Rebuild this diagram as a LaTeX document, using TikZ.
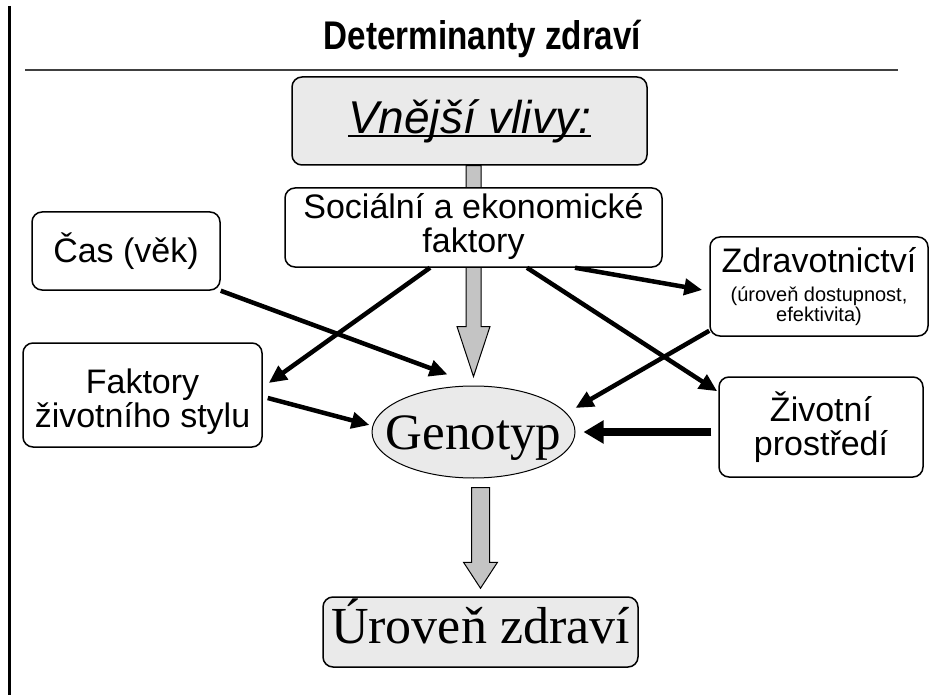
\documentclass[tikz,border=0pt]{standalone}
\usepackage{graphicx}
\usepackage{fontspec}
\setmainfont{Liberation Sans}
\newfontfamily\timesfont{Liberation Serif}
\usetikzlibrary{arrows.meta, calc, shapes.geometric}
\definecolor{PaleGray}{HTML}{EAEAEA}
\definecolor{ArrowGray}{HTML}{C4C4C4}
\definecolor{RuleGray}{HTML}{404040}

\newcommand\ulinetext[1]{\setbox0\hbox{#1}\rlap{\rule[-4pt]{\wd0}{2pt}}\box0}
% gray block arrow: start, tip, shaft half width, head length, head half width
\newcommand\grayarrow[5]{%
  \draw[fill=ArrowGray, line width=1pt] let \p1=(#1), \p2=(#2) in
    (\x2-#3pt,\y1) -- (\x2-#3pt,\y2+#4pt) -- (\x2-#5pt,\y2+#4pt) -- (\x2,\y2)
    -- (\x2+#5pt,\y2+#4pt) -- (\x2+#3pt,\y2+#4pt) -- (\x2+#3pt,\y1) -- cycle;}

\begin{document}
\begin{tikzpicture}[x=1pt, y=-1pt,
    box/.style={draw, line width=1.5pt, rounded corners=10pt, fill=white, align=center,
      inner sep=0pt, font=\fontsize{34}{34}\selectfont},
    graybox/.style={box, fill=PaleGray},
    link/.style={line width=4.5pt, -{Triangle[length=18pt,width=16pt]}}]
  \useasboundingbox (0,0) rectangle (929,695);

  % frame line and title
  \draw[line width=3pt] (9.5,6) -- (9.5,695);
  \node[anchor=base, font=\bfseries\fontsize{40}{40}\selectfont] (title) at (482.5,50)
    {\scalebox{0.83}[1]{Determinanty zdraví}};
  \draw[RuleGray, line width=2pt] (25,70) -- (898,70);

  % main column
  \node[graybox, minimum width=355, minimum height=88] (vliv) at (469.5,121)
    {\fontsize{46}{46}\selectfont\itshape\ulinetext{Vnější vlivy:}};
  \node[ellipse, draw, line width=1pt, fill=PaleGray, minimum width=203, minimum height=92,
    inner sep=0pt, label={[font=\timesfont\fontsize{51}{51}\selectfont, yshift=-6pt]center:Genotyp}]
    (geno) at (473.5,432) {};
  \coordinate (tip1) at ($(geno.north)+(0,-9)$);
  \grayarrow{vliv.south}{tip1}{7.5}{50}{16.5}
  \node[box, minimum width=377, minimum height=79] (soc) at (473.5,227.5)
    {Sociální a ekonomické\\faktory\rule[-10pt]{0pt}{0pt}};
  \node[graybox, minimum width=315, minimum height=70, text height=34, text depth=12,
    font=\timesfont\fontsize{52}{52}\selectfont] (level) at (480.5,632) {Úroveň zdraví};
  \coordinate (gs) at ($(geno.south)+(0,9)$);
  \coordinate (tip2) at ($(level.north)+(0,-8)$);
  \grayarrow{gs}{tip2}{9}{26}{17}

  % side boxes
  \node[box, minimum width=188, minimum height=78] (cas) at (126,251) {Čas (věk)};
  \node[box, minimum width=239, minimum height=104] (styl) at (142.5,395)
    {\rule{0pt}{38pt}Faktory\\životního stylu};
  \node[box, minimum width=218, minimum height=99, font=\fontsize{20}{20}\selectfont]
    (zdrav) at (819,286.5)
    {{\fontsize{34}{34}\selectfont Zdravotnictví}\\[9pt](úroveň dostupnost,\\efektivita)};
  \node[box, minimum width=204, minimum height=100] (prostr) at (821,427)
    {Životní\\prostředí};

  % influences
  \draw[link] (cas.south east) -- ($(geno.north)+(-26,-11)$);
  \draw[link] ($(soc.south)+(-43.5,0)$) -- ($(styl.east)+(6,-12)$);
  \draw[link] ($(styl.east)+(5,3)$) -- ($(geno.west)+(-2,-7)$);
  \draw[link] ($(soc.south)+(101.5,0)$) -- ($(zdrav.west)+(-7,3.5)$);
  \draw[link] ($(soc.south)+(53.5,0)$) -- ($(prostr.north west)+(-1,15)$);
  \draw[link] ($(zdrav.south west)+(0,-6)$) -- ($(geno.east)+(0,-24)$);
  \draw[line width=8pt, -{Triangle[length=20pt,width=22pt]}]
    ($(prostr.west)+(-7,5)$) -- ($(geno.east)+(8,0)$);
\end{tikzpicture}
\end{document}
